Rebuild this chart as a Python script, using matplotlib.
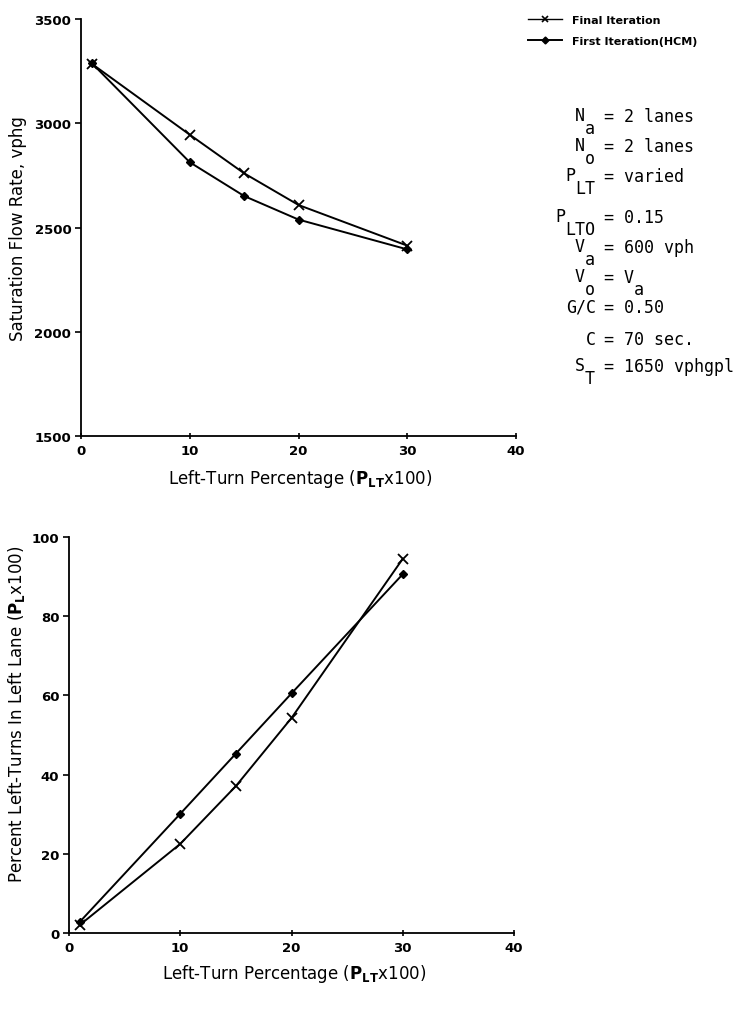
import matplotlib
matplotlib.use("Agg")
import matplotlib.pyplot as plt
from matplotlib.lines import Line2D

# Datos
plt_pct = [1, 10, 15, 20, 30]

sat_final = [3285, 2945, 2760, 2608, 2413]
sat_first = [3288, 2813, 2651, 2538, 2395]

pl_final = [2.1, 22.5, 37.1, 54.3, 94.5]
pl_first = [2.9, 30.1, 45.3, 60.5, 90.6]

labels = ["Final Iteration", "First Iteration(HCM)"]

# bloque de parametros: letra principal, subindice, texto a la derecha
par_main = ["N", "N", "P", "P", "V", "V", "G/C", "C", "S"]
par_sub = ["a", "o", "LT", "LTO", "a", "o", "", "", "T"]
par_right = ["= 2 lanes", "= 2 lanes", "= varied", "= 0.15", "= 600 vph",
             "= V", "= 0.50", "= 70 sec.", "= 1650 vphgpl"]
par_right_sub = ["", "", "", "", "", "a", "", "", ""]
par_y = [117, 147, 177, 218, 248, 278, 308, 340, 367]

plt.rcParams['font.family'] = 'DejaVu Sans'
plt.rcParams['mathtext.fontset'] = 'dejavusans'

W, H = 737, 1012
fig = plt.figure(figsize=(W / 100, H / 100), dpi=100)

ax1 = fig.add_axes([81 / W, 1 - 437 / H, (516 - 81) / W, (437 - 20) / H])
ax2 = fig.add_axes([69 / W, 1 - 934 / H, (514 - 69) / W, (934 - 538) / H])

kw_final = dict(color='black', lw=1.4, marker='x', ms=6.5, mew=1.3)
kw_first = dict(color='black', lw=1.4, marker='D', ms=4.5)

ax1.plot(plt_pct, sat_final, **kw_final)
ax1.plot(plt_pct, sat_first, **kw_first)
ax1.set_xlim(0, 40)
ax1.set_ylim(1500, 3500)
ax1.set_yticks([1500, 2000, 2500, 3000, 3500])
ax1.set_ylabel("Saturation Flow Rate, vphg", fontsize=12)
ax1.yaxis.set_label_coords((27 - 81) / 435, 0.5)

ax2.plot(plt_pct, pl_final, **kw_final)
ax2.plot(plt_pct, pl_first, **kw_first)
ax2.set_xlim(0, 40)
ax2.set_ylim(0, 100)
ax2.set_yticks([0, 20, 40, 60, 80, 100])
ax2.set_ylabel(r"Percent Left-Turns In Left Lane ($\mathbf{P}_{\mathbf{L}}$x100)",
               fontsize=12)
ax2.yaxis.set_label_coords((27 - 69) / 445, 0.555)

xlab = r"Left-Turn Percentage ($\mathbf{P}_{\mathbf{LT}}$x100)"
for ax in (ax1, ax2):
    ax.set_xticks([0, 10, 20, 30, 40])
    ax.set_xlabel(xlab, fontsize=12)
    ax.spines['top'].set_visible(False)
    ax.spines['right'].set_visible(False)
    for s in ('left', 'bottom'):
        ax.spines[s].set_linewidth(1.3)
    ax.tick_params(axis='x', direction='inout', length=5, width=1.2, pad=3)
    ax.tick_params(axis='y', direction='out', length=4, width=1.2, pad=3)
    for t in ax.get_xticklabels() + ax.get_yticklabels():
        t.set_fontweight('bold')
        t.set_fontsize(9.5)
ax1.xaxis.set_label_coords(0.503, -31 / 417)
ax2.xaxis.set_label_coords(0.506, -29 / 396)

# leyenda
handles = [Line2D([], [], lw=1.0, color='black', marker='x', ms=5, mew=1.2),
           Line2D([], [], lw=1.4, color='black', marker='D', ms=3.5)]
fig.legend(handles, labels, loc='center left', bbox_to_anchor=(528 / W, 1 - 31.5 / H),
           frameon=False, prop={'weight': 'bold', 'size': 8}, handlelength=3.1,
           handletextpad=0.9, labelspacing=1.05, borderpad=0, borderaxespad=0)

# parametros
mono = dict(family='DejaVu Sans Mono', fontsize=12, va='center')
cw = 10  # ancho de caracter en px
for m, s, r, rs, y in zip(par_main, par_sub, par_right, par_right_sub, par_y):
    if s:
        fig.text(595 / W, 1 - (y + 12) / H, s, ha='right', **mono)
        fig.text((595 - cw * len(s)) / W, 1 - (y - 1) / H, m, ha='right', **mono)
    else:
        fig.text(596 / W, 1 - y / H, m, ha='right', **mono)
    fig.text(604 / W, 1 - y / H, r, ha='left', **mono)
    if rs:
        fig.text((604 + cw * len(r)) / W, 1 - (y + 12) / H, rs, ha='left', **mono)

fig.savefig("out.png", dpi=100)
